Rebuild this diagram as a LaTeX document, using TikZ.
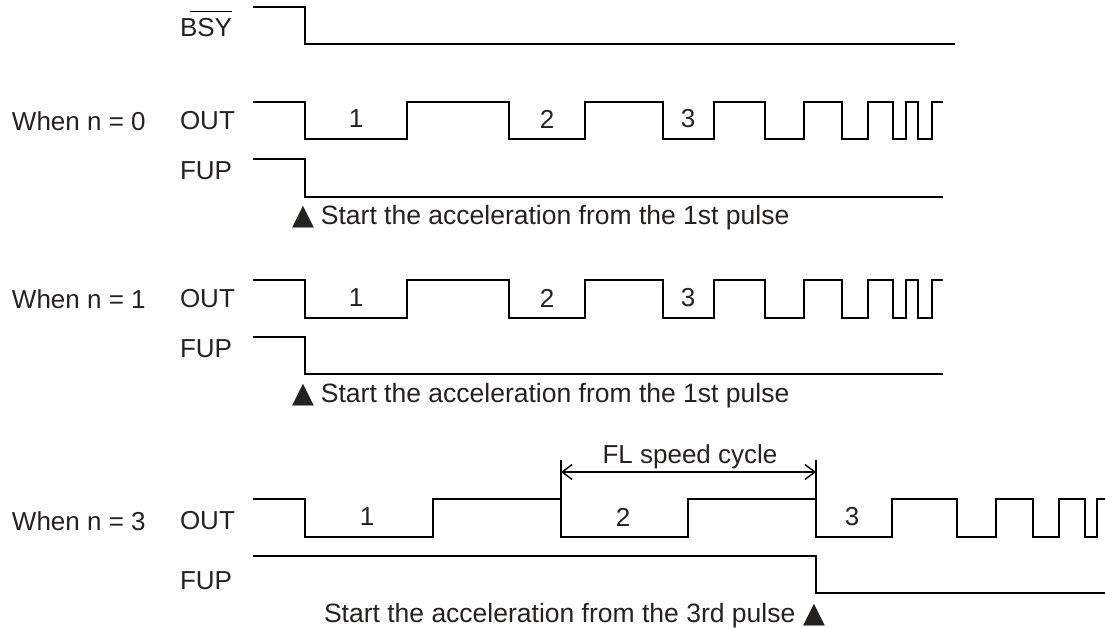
\documentclass[tikz,border=0pt]{standalone}
\usepackage{fontspec}
\setmainfont{Liberation Sans}
\newfontfamily\symfont{DejaVu Sans}
\usetikzlibrary{arrows.meta}
\definecolor{txt}{rgb}{0.14,0.13,0.13}
\newcommand\tri{{\symfont\fontsize{28.5}{30}\selectfont ▲}}
\begin{document}
\begin{tikzpicture}[x=1pt,y=-1pt,
  every node/.style={inner sep=0pt,outer sep=0pt,text=txt,font=\fontsize{26}{30}\selectfont},
  sig/.style={line width=1.6pt,line join=miter,black},
  fastsig/.style={line width=1.8pt,line join=miter,black},
  lbl/.style={anchor=west},
  num/.style={anchor=center},
  note/.style={anchor=base west,font=\fontsize{26.5}{30}\selectfont},
  dim/.style={line width=1.4pt,black,{Straight Barb[length=10pt,width=15pt,line width=1.4pt]}-{Straight Barb[length=10pt,width=15pt,line width=1.4pt]}},
  tick/.style={line width=1.4pt,black}]
\useasboundingbox (0,0) rectangle (1105,628);

% ---------- labels ----------
\node[lbl] (lbsy) at (180,28) {BSY};
\draw[line width=1.3pt,black] ([xshift=10pt,yshift=7pt]lbsy.north west) -- ([yshift=7pt]lbsy.north east);

\node[lbl] (when0) at (12,121) {When n = 0};
\node[lbl] (out0) at (180,121) {OUT};
\node[lbl] (fup0) at (180,171) {FUP};

\node[lbl] (when1) at (12,299) {When n = 1};
\node[lbl] (out1) at (180,299) {OUT};
\node[lbl] (fup1) at (180,349) {FUP};

\node[lbl] (when3) at (12,521) {When n = 3};
\node[lbl] (out3) at (180,521) {OUT};
\node[lbl] (fup3) at (180,581) {FUP};

% ---------- BSY ----------
\draw[fastsig] (253,7) -| (305,44) -- (955,44);

% ---------- n = 0 ----------
\begin{scope}[shift={(0,102)}]
\draw[sig] (253,0) -| (305,37) -| (407,0) -| (509,37) -| (585,0) -| (663,37) -| (714,0) -| (765,37) -| (804,0) -| (842,37) -| (868,0) -| (893,37) -| (906,0) -| (918,37) -| (932,0) -- (943,0);
\node[num] (p01) at (356,17) {1};
\node[num] (p02) at (547,17) {2};
\node[num] (p03) at (688,17) {3};
\end{scope}
\draw[fastsig] (253,159) -| (305,197) -- (943,197);
\node[note] (n0) at (292,225) {\tri\hspace{7pt}Start the acceleration from the 1st pulse};

% ---------- n = 1 ----------
\begin{scope}[shift={(0,280)}]
\draw[sig] (253,0) -| (305,38) -| (407,0) -| (509,38) -| (585,0) -| (663,38) -| (714,0) -| (765,38) -| (804,0) -| (842,38) -| (868,0) -| (893,38) -| (906,0) -| (918,38) -| (932,0) -- (943,0);
\node[num] (p11) at (356,18) {1};
\node[num] (p12) at (547,18) {2};
\node[num] (p13) at (688,18) {3};
\end{scope}
\draw[fastsig] (253,337) -| (305,374) -- (943,374);
\node[note] (n1) at (292,402) {\tri\hspace{7pt}Start the acceleration from the 1st pulse};

% ---------- n = 3 ----------
\draw[sig] (253,499) -| (305,537) -| (433,499) -| (561,537) -| (688,499) -| (816,537) -| (892,499) -| (957,537) -| (996,499) -| (1033,537) -| (1059,499) -| (1085,537) -| (1097,499) -- (1105,499);
\node[num] (p31) at (367,517) {1};
\node[num] (p32) at (623,517) {2};
\node[num] (p33) at (852,517) {3};
\draw[fastsig] (253,556) -| (816,593) -- (1105,593);
\node[note] (n3) at (324,622) {Start the acceleration from the 3rd pulse\hspace{8pt}\tri};

% ---------- FL speed cycle ----------
\coordinate (ta) at (561,460);
\coordinate (tb) at (816,460);
\coordinate (ta2) at (561,499);
\coordinate (tb2) at (816,499);
\draw[tick] (ta) -- (ta2);
\draw[tick] (tb) -- (tb2);
\coordinate (da) at (561,472);
\coordinate (db) at (816,472);
\draw[dim] (da) -- (db);
\node[anchor=base] (fl) at (690,463) {FL speed cycle};
\end{tikzpicture}
\end{document}
